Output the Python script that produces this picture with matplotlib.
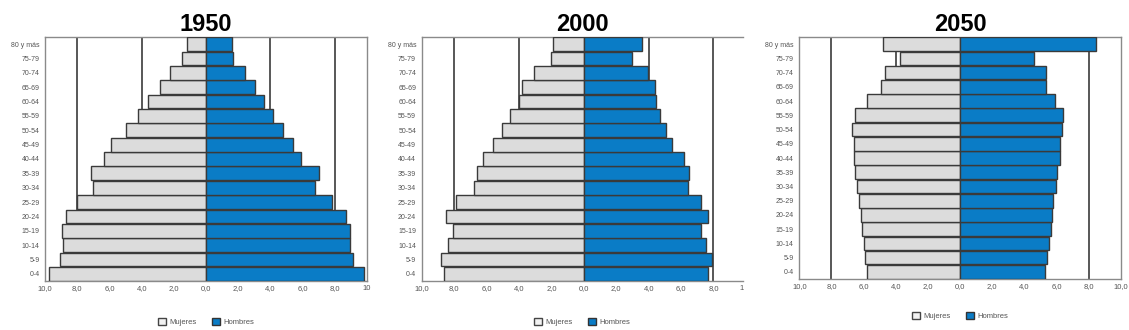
import matplotlib
matplotlib.use("Agg")
import matplotlib.pyplot as plt
from matplotlib.patches import Patch

plt.rcParams['font.family'] = ['Liberation Sans', 'DejaVu Sans']

# age groups, bottom (0-4) to top (80 y más)
ages = ["0-4", "5-9", "10-14", "15-19", "20-24", "25-29", "30-34", "35-39",
        "40-44", "45-49", "50-54", "55-59", "60-64", "65-69", "70-74",
        "75-79", "80 y más"]

# percent of population
mujeres_1950 = [9.76, 9.08, 8.88, 8.92, 8.67, 7.99, 7.02, 7.12, 6.36, 5.9,
                5.0, 4.21, 3.59, 2.89, 2.23, 1.49, 1.18]
hombres_1950 = [9.82, 9.12, 8.92, 8.93, 8.67, 7.84, 6.75, 7.0, 5.9, 5.41,
                4.77, 4.17, 3.61, 3.03, 2.41, 1.69, 1.61]

mujeres_2000 = [8.6, 8.81, 8.38, 8.05, 8.5, 7.9, 6.77, 6.6, 6.2, 5.6,
                5.04, 4.55, 3.99, 3.83, 3.05, 2.04, 1.91]
hombres_2000 = [7.69, 7.9, 7.53, 7.22, 7.69, 7.2, 6.42, 6.46, 6.21, 5.43,
                5.1, 4.71, 4.48, 4.4, 3.99, 2.98, 3.58]

mujeres_2050 = [5.78, 5.92, 5.98, 6.09, 6.17, 6.31, 6.44, 6.52, 6.58, 6.6,
                6.71, 6.54, 5.81, 4.92, 4.67, 3.74, 4.78]
hombres_2050 = [5.3, 5.4, 5.53, 5.65, 5.73, 5.78, 5.98, 6.06, 6.19, 6.23,
                6.36, 6.4, 5.88, 5.34, 5.36, 4.63, 8.45]

years = ["1950", "2000", "2050"]
tick_vals = [-10, -8, -6, -4, -2, 0, 2, 4, 6, 8, 10]
tick_text = ["10,0", "8,0", "6,0", "4,0", "2,0", "0,0", "2,0", "4,0", "6,0", "8,0", "10,0"]

GRAY = "#dcdcdc"
BLUE = "#0a7cc6"
EDGE = "#3a3a3a"
TXT = "#555555"

fig = plt.figure(figsize=(11.29, 3.30), dpi=100)

# axes rectangles in figure fraction
rects = [[0.0399, 0.1485, 0.2852, 0.7394],
         [0.3735, 0.1485, 0.2843, 0.7394],
         [0.7080, 0.1545, 0.2847, 0.7333]]
xmax = [10, 9.8, 10]
legend_y = [0.024, 0.024, 0.042]

data = [(mujeres_1950, hombres_1950), (mujeres_2000, hombres_2000),
        (mujeres_2050, hombres_2050)]

for i, (muj, hom) in enumerate(data):
    ax = fig.add_axes(rects[i])
    y = range(len(ages))
    ax.barh(y, [-v for v in muj], height=0.96, color=GRAY, edgecolor=EDGE,
            linewidth=1.0, zorder=3)
    ax.barh(y, hom, height=0.96, color=BLUE, edgecolor=EDGE,
            linewidth=1.0, zorder=3)
    for g in [-8, -4, 4, 8]:
        ax.axvline(g, color="#4a4a4a", linewidth=1.3, zorder=1)
    ax.set_xlim(-10, xmax[i])
    ax.set_ylim(-0.5, len(ages) - 0.5)
    ax.set_yticks(list(y))
    ax.set_yticklabels(ages, fontsize=5, color=TXT)

    labels = list(tick_text)
    if i == 0:
        labels[-1] = "10"
    if i == 1:
        ticks = tick_vals[:-1] + [9.75]
        labels = tick_text[:-1] + ["1"]
    else:
        ticks = tick_vals
    ax.set_xticks(ticks)
    ax.set_xticklabels(labels, fontsize=5.5, color=TXT)
    ax.tick_params(length=0, pad=3)
    ax.tick_params(axis='y', pad=4)

    for s in ax.spines.values():
        s.set_color("#8a8a8a")
        s.set_linewidth(1.0)
    if i == 1:
        ax.spines['right'].set_visible(False)

    ax.set_title(years[i], fontsize=17, fontweight='bold', pad=4)

    cx = rects[i][0] + rects[i][2] / 2
    handles = [Patch(facecolor="#f2f2f2", edgecolor="#444444", label="Mujeres"),
               Patch(facecolor=BLUE, edgecolor="#333333", label="Hombres")]
    leg = fig.legend(handles=handles, loc='center', bbox_to_anchor=(cx, legend_y[i]),
                     ncol=2, frameon=False, fontsize=5.5, handlelength=1.0,
                     handleheight=1.0, handletextpad=0.5, columnspacing=2.0)
    for t in leg.get_texts():
        t.set_color(TXT)

fig.savefig("out.png", dpi=100)
